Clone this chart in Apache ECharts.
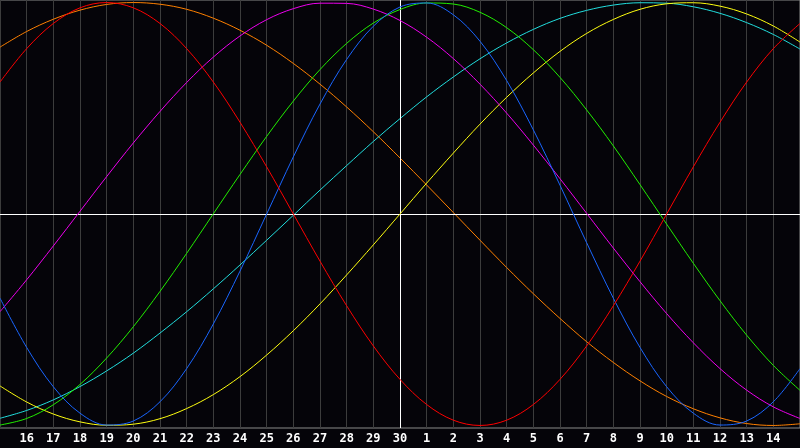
<!DOCTYPE html>
<html>
<head>
<meta charset="utf-8">
<script src="https://cdn.jsdelivr.net/npm/echarts@6/dist/echarts.min.js"></script>
<style>
html,body{margin:0;padding:0;background:#050409;}
#c{width:800px;height:448px;}
</style>
</head>
<body>
<div id="c"></div>
<script>
// Day labels for positions 0..30
var dayLabels = ['15','16','17','18','19','20','21','22','23','24','25','26','27','28','29','30','1','2','3','4','5','6','7','8','9','10','11','12','13','14','15'];

var redValues = [0.624,0.782,0.901,0.975,1.000,0.975,0.901,0.782,0.624,0.434,0.223,0.000,-0.223,-0.434,-0.624,-0.782,-0.901,-0.975,-1.000,-0.975,-0.901,-0.782,-0.624,-0.434,-0.223,0.000,0.223,0.434,0.624,0.782,0.901];
var greenValues = [-0.998,-0.967,-0.902,-0.806,-0.681,-0.533,-0.366,-0.186,0.001,0.187,0.367,0.534,0.683,0.807,0.903,0.967,0.998,0.993,0.954,0.881,0.777,0.646,0.492,0.322,0.139,-0.048,-0.233,-0.410,-0.573,-0.716,-0.834];
var blueValues = [-0.398,-0.631,-0.817,-0.942,-0.998,-0.979,-0.888,-0.731,-0.520,-0.270,0.000,0.270,0.520,0.731,0.888,0.979,0.998,0.942,0.817,0.631,0.398,0.136,-0.136,-0.398,-0.631,-0.817,-0.942,-0.998,-0.979,-0.888,-0.731];
var magentaValues = [-0.462,-0.311,-0.151,0.013,0.177,0.336,0.485,0.622,0.742,0.842,0.919,0.971,0.997,0.996,0.969,0.915,0.836,0.735,0.614,0.477,0.326,0.167,0.003,-0.161,-0.320,-0.471,-0.609,-0.731,-0.833,-0.912,-0.967];
var cyanValues = [-0.966,-0.929,-0.879,-0.816,-0.742,-0.658,-0.563,-0.462,-0.354,-0.241,-0.124,-0.006,0.113,0.229,0.343,0.451,0.554,0.648,0.734,0.809,0.873,0.925,0.963,0.988,0.999,0.997,0.980,0.949,0.905,0.849,0.780];
var yellowValues = [-0.813,-0.889,-0.946,-0.983,-0.999,-0.994,-0.968,-0.920,-0.854,-0.769,-0.667,-0.552,-0.425,-0.288,-0.146,0.000,0.146,0.288,0.425,0.552,0.667,0.769,0.854,0.920,0.968,0.994,0.999,0.983,0.946,0.889,0.813];
var orangeValues = [0.789,0.863,0.921,0.964,0.991,1.000,0.992,0.968,0.926,0.869,0.798,0.712,0.614,0.506,0.389,0.265,0.137,0.007,-0.124,-0.253,-0.377,-0.494,-0.604,-0.702,-0.789,-0.863,-0.921,-0.964,-0.991,-1.000,-0.992];

function pts(arr){ return arr.map(function(v,i){ return [i, v]; }); }

var seriesDefs = [
  {name:'orange', data: orangeValues, color:'#ff8000'},
  {name:'cyan', data: cyanValues, color:'#22dede'},
  {name:'yellow', data: yellowValues, color:'#ffff10'},
  {name:'magenta', data: magentaValues, color:'#ee00ee'},
  {name:'green', data: greenValues, color:'#22ee00'},
  {name:'blue', data: blueValues, color:'#1a66ff'},
  {name:'red', data: redValues, color:'#ff0000'}
];

var series = seriesDefs.map(function(s, k){
  var o = {
    name: s.name, type: 'line', data: pts(s.data), smooth: 0.35,
    showSymbol: false, symbol: 'none', silent: true, animation: false,
    lineStyle: {color: s.color, width: 1}, z: 3 + k
  };
  return o;
});
series.push({
  type: 'line', data: [], silent: true, animation: false, z: 2,
  markLine: {
    silent: true, symbol: 'none', animation: false,
    label: {show: false},
    lineStyle: {color: '#ffffff', width: 1, type: 'solid'},
    data: [{yAxis: 0}, {xAxis: 15}]
  }
});

var chart = echarts.init(document.getElementById('c'), null, {renderer: 'canvas'});
chart.setOption({
  backgroundColor: '#050409',
  animation: false,
  grid: {left: 0, right: 0, top: 0, bottom: 20, show: true, borderColor: '#8a8a8a', borderWidth: 1, backgroundColor: '#050409'},
  xAxis: {
    type: 'value', min: 0, max: 30, interval: 1,
    axisLine: {show: true, lineStyle: {color: '#9a9a9a', width: 1}},
    axisTick: {show: false},
    splitLine: {show: true, lineStyle: {color: '#3c3c3c', width: 1}},
    axisLabel: {
      color: '#ffffff', fontFamily: 'DejaVu Sans Mono', fontWeight: 'bold', fontSize: 12, margin: 5,
      showMinLabel: false, showMaxLabel: false,
      formatter: function(v){ var i = Math.round(v); return (i <= 0 || i >= 30) ? '' : dayLabels[i]; }
    }
  },
  yAxis: {
    type: 'value', min: -1.012, max: 1.012,
    axisLine: {show: false}, axisTick: {show: false}, axisLabel: {show: false}, splitLine: {show: false}
  },
  series: series
});
</script>
</body>
</html>
